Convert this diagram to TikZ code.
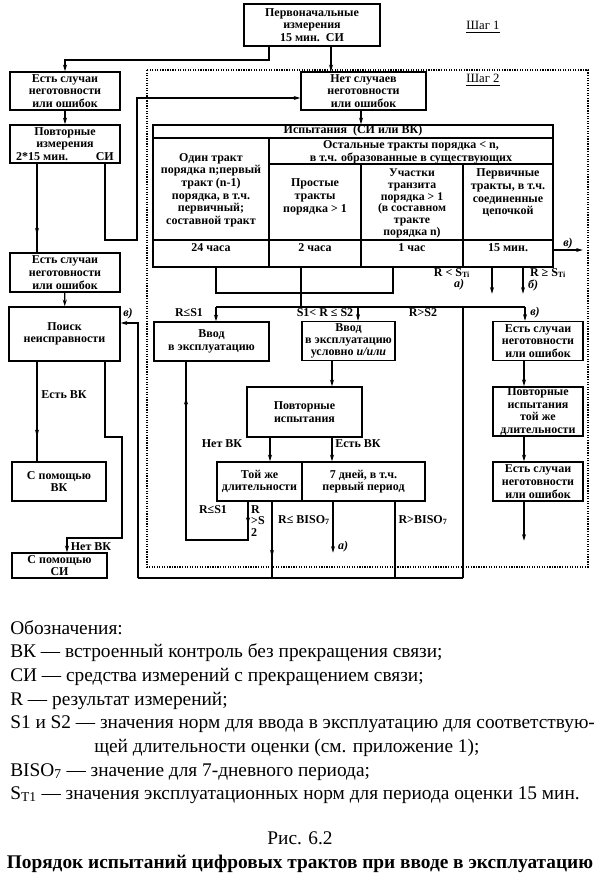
\documentclass[tikz,border=0pt]{standalone}
\usepackage{fontspec}
\setmainfont{Liberation Serif}
\usetikzlibrary{arrows.meta,decorations.markings}

\begin{document}
\begin{tikzpicture}[x=0.75pt,y=-0.75pt,
    blok/.style={draw, line width=1.1pt, align=center, inner sep=0.5pt,
        font=\fontsize{9}{9.5}\selectfont\bfseries},
    wh/.style 2 args={minimum width=#1*0.75pt, minimum height=#2*0.75pt},
    tekst/.style={align=center, inner sep=0pt, font=\fontsize{9}{9.5}\selectfont\bfseries},
    metka/.style={inner sep=0pt, font=\fontsize{9}{9.5}\selectfont\bfseries},
    bukva/.style={inner sep=0pt, font=\fontsize{9}{9.5}\selectfont\bfseries\itshape},
    linija/.style={line width=0.9pt},
    strelka/.style={linija, -{Stealth[length=5pt,width=3pt]}},
    pometka/.style={linija, postaction={decorate}, decoration={markings,
        mark=at position #1 with {\arrow{Stealth[length=5pt,width=3pt]}}}},
    pometki/.style 2 args={linija, postaction={decorate}, decoration={markings,
        mark=at position #1 with {\arrow{Stealth[length=5pt,width=3pt]}},
        mark=at position #2 with {\arrow{Stealth[length=5pt,width=3pt]}}}},
    legenda/.style={anchor=base west, inner sep=0pt, font=\fontsize{14.5}{17}\selectfont}]
    \fill[white] (0,0) rectangle (600,881);
    \useasboundingbox (0,0) rectangle (600,881);

    % шаг 1
    \node[blok, wh={136}{42}] (perv) at (312,25) {Первоначальные\\измерения\\15 мин.\ \ СИ};
    \node[metka, font=\fontsize{9.5}{10}\selectfont] (shag1) at (483,27) {\underline{Шаг 1}};
    \node[blok, wh={110}{38}] (esc1) at (65,91) {Есть случаи\\неготовности\\или ошибок};
    \node[blok, wh={110}{38}] (povt1) at (65,144) {Повторные\\измерения\\2*15 мин.\hspace{2.3em}СИ};
    \node[blok, wh={110}{39}] (esc2) at (65,272.5) {Есть случаи\\неготовности\\или ошибок};
    \node[blok, wh={111}{54}] (poisk) at (64.5,334) {Поиск\\неисправности};
    \node[blok, wh={94}{39}] (pomVK) at (59,481.5) {С помощью\\ВК};
    \node[blok, wh={95}{25}, inner sep=0pt, font=\fontsize{9}{9}\selectfont\bfseries] (pomSI) at (59.5,565.5) {С помощью\\СИ};

    % шаг 2
    \draw[densely dotted, line width=0.9pt] (147,70) rectangle (588,567);
    \node[metka, font=\fontsize{9.5}{10}\selectfont] (shag2) at (483,80) {\underline{Шаг 2}};
    \node[blok, wh={125}{38}] (net) at (363.5,91) {Нет случаев\\неготовности\\или ошибок};

    \node[draw, line width=1.1pt, wh={400}{142}, inner sep=0pt] (tabl) at (353,196) {};
    \draw[line width=1.1pt] (tabl.west |- 0,138) -- (tabl.east |- 0,138);
    \draw[line width=1.1pt] (tabl.west |- 0,240) -- (tabl.east |- 0,240);
    \draw[line width=1.1pt] (269,138) -- (269,267);
    \draw[line width=1.1pt] (269,164) -- (tabl.east |- 0,164);
    \draw[line width=1.1pt] (361,164) -- (361,267);
    \draw[line width=1.1pt] (463,164) -- (463,267);
    \node[tekst] (isp) at (353,131) {Испытания\ \ (СИ или ВК)};
    \node[tekst] (odin) at (211,190) {Один тракт\\порядка n;первый\\тракт (n-1)\\порядка, в т.ч.\\первичный;\\составной тракт};
    \node[tekst] (ostal) at (411,152) {Остальные тракты порядка < n,\\в т.ч. образованные в существующих};
    \node[tekst] (prost) at (315,197) {Простые\\тракты\\порядка > 1};
    \node[tekst, font=\fontsize{8.8}{8.8}\selectfont\bfseries] (uch) at (412,203.5) {Участки\\транзита\\порядка > 1\\(в составном\\тракте\\порядка n)};
    \node[tekst] (pervich) at (508,193) {Первичные\\тракты, в т.ч.\\соединенные\\цепочкой};
    \node[tekst] (t24) at (211,248) {24 часа};
    \node[tekst] (t2) at (315,248) {2 часа};
    \node[tekst] (t1) at (412,248) {1 час};
    \node[tekst] (t15) at (508,248) {15 мин.};

    \node[blok, wh={115}{39}] (vvod1) at (211.5,341.5) {Ввод\\в эксплуатацию};
    \node[blok, wh={93}{39}, font=\fontsize{9}{9}\selectfont\bfseries] (vvod2) at (348.5,341) {Ввод\\в эксплуатацию\\условно \textit{и/или}};
    \node[blok, wh={115}{50}] (povtIsp) at (304.5,412) {Повторные\\испытания};
    \node[blok, wh={85}{39}] (toj) at (259.5,481.5) {Той же\\длительности};
    \node[blok, wh={123}{39}] (sem) at (363.5,481.5) {7 дней, в т.ч.\\первый период};
    \node[blok, wh={90}{39}] (escR1) at (538,341) {Есть случаи\\неготовности\\или ошибок};
    \node[blok, wh={90}{48}] (povtR) at (538,411.5) {Повторные\\испытания\\той же\\длительности};
    \node[blok, wh={90}{39}] (escR2) at (538,481.5) {Есть случаи\\неготовности\\или ошибок};

    % связи слева
    \draw[strelka] (perv.south -| 331,0) -- (net.north -| 331,0);
    \draw[strelka] (perv.south -| 269,0) |- (65,60) -- (esc1.north);
    \draw[strelka] (esc1) -- (povt1);
    \draw[pometka=0.8] (povt1.south -| 37,0) -- (esc2.north -| 37,0);
    \draw[strelka] (povt1.south -| 105,0) |- (137,240) |- (net.west |- 0,98);
    \draw[strelka] (esc2) -- (poisk);
    \draw[pometka=0.75] (poisk.south -| 37,0) -- (pomVK.north -| 37,0);
    \node[metka] (estVK1) at (64,395) {Есть ВК};
    \draw[strelka] (poisk.south -| 105,0) |- (122,437) |- (67,538) -- (pomSI.north -| 67,0);
    \node[metka] (netVK1) at (91,547) {Нет ВК};
    \draw[linija] (138,578) -- (463,578);
    \draw[strelka] (138,578) -- (138,323) -- (poisk.east |- 0,323);
    \node[bukva] (v1) at (128,314) {в)};

    % связи от таблицы
    \draw[strelka] (net.south -| 361,0) -- (tabl.north -| 361,0);
    \draw[strelka] (tabl.east |- 0,250) -- ++(29,0);
    \node[bukva] (v2) at (568,244) {в)};
    \draw[strelka] (tabl.south -| 492,0) -- ++(0,26);
    \draw[strelka] (tabl.south -| 523,0) -- ++(0,26);
    \node[metka] (rmen) at (452,273) {R < S\textsubscript{Ti}};
    \node[bukva] (a1) at (459,285) {а)};
    \node[metka] (rbol) at (548,273) {R ≥ S\textsubscript{Ti}};
    \node[bukva] (b1) at (533,285) {б)};
    \draw[linija] (tabl.south -| 216,0) -- (216,293) -- (393,293) -- (tabl.south -| 393,0);
    \draw[linija] (tabl.south -| 301,0) -- (301,307);
    \draw[linija] (216,307) -- (525,307);
    \draw[linija] (463,307) -- (463,578);
    \draw[strelka] (216,307) -- (vvod1.north -| 216,0);
    \draw[strelka] (358,307) -- (vvod2.north -| 358,0);
    \draw[strelka] (525,307) -- (escR1.north -| 525,0);
    \node[metka] (rs1) at (189,313) {R≤S1};
    \node[metka] (rs12) at (325,313) {S1< R ≤ S2};
    \node[metka] (rs2) at (423,313) {R>S2};
    \node[bukva] (v3) at (535,313) {в)};

    % середина
    \draw[strelka] (vvod2.south -| 332,0) -- (povtIsp.north -| 332,0);
    \draw[strelka] (povtIsp.south -| 270,0) -- (toj.north -| 270,0);
    \draw[strelka] (povtIsp.south -| 332,0) -- (sem.north -| 332,0);
    \node[metka] (netVK2) at (222,444) {Нет ВК};
    \node[metka] (estVK2) at (358,444) {Есть ВК};
    \draw[pometki={0.08}{0.87}] (toj.south -| 248,0) |- (186,540) -- (vvod1.south -| 186,0);
    \node[metka] (rs1b) at (213,510) {R≤S1};
    \node[metka, align=left, font=\fontsize{9}{8.7}\selectfont\bfseries] (rs2b) at (258,521) {R\\>S\\2};
    \draw[pometka=0.72] (toj.south -| 272,0) -- (272,578);
    \draw[strelka] (sem.south -| 333,0) -- ++(0,51);
    \node[bukva] (a2) at (343,547) {а)};
    \node[metka] (rbiso1) at (304,520) {R≤ BISO\textsubscript{7}};
    \draw[linija] (sem.south -| 395,0) -- (395,578);
    \node[metka] (rbiso2) at (423,520) {R>BISO\textsubscript{7}};

    % справа
    \draw[strelka] (escR1.south -| 524,0) -- (povtR.north -| 524,0);
    \draw[strelka] (povtR.south -| 524,0) -- (escR2.north -| 524,0);
    \draw[strelka] (escR2.south -| 524,0) -- ++(0,39);

    % обозначения
    \node[legenda] (lg0) at (10,634) {Обозначения:};
    \node[legenda] (lg1) at (10,657.6) {ВК — встроенный контроль без прекращения связи;};
    \node[legenda] (lg2) at (10,681) {СИ — средства измерений с прекращением связи;};
    \node[legenda] (lg3) at (10,705) {R — результат измерений;};
    \node[legenda] (lg4) at (10,728) {S1 и S2 — значения норм для ввода в эксплуатацию для соответствую-};
    \node[legenda] (lg5) at (94,752) {щей длительности оценки (см. приложение 1);};
    \node[legenda] (lg6) at (10,776) {BISO\textsubscript{7} — значение для 7-дневного периода;};
    \node[legenda] (lg7) at (10,799) {S\textsubscript{T1} — значения эксплуатационных норм для периода оценки 15 мин.};
    \node[legenda, anchor=base] (ris) at (300,844) {Рис. 6.2};
    \node[legenda, anchor=base, font=\fontsize{14.5}{17}\selectfont\bfseries] (podpis) at (300,868) {Порядок испытаний цифровых трактов при вводе в эксплуатацию};
\end{tikzpicture}
\end{document}
